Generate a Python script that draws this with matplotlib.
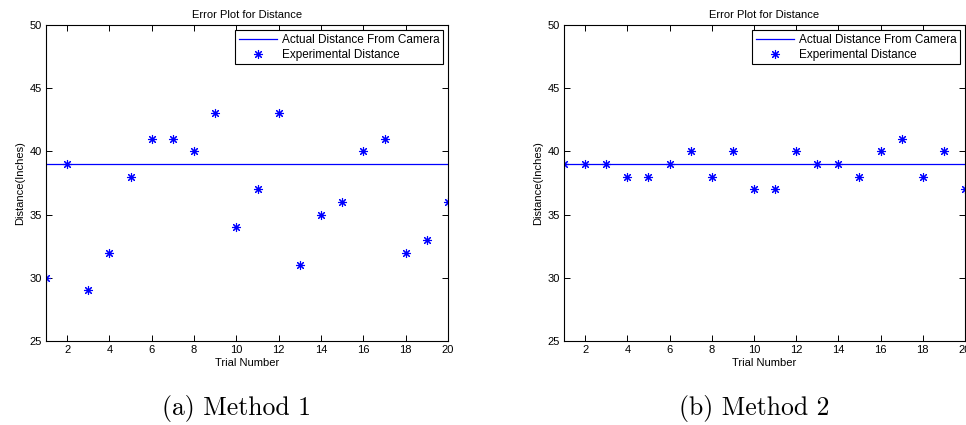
import numpy as np
import matplotlib.pyplot as plt

plt.rcParams['font.family'] = ['Liberation Sans', 'DejaVu Sans']

trials = np.arange(1, 21)
actual = 39
method1 = [30, 39, 29, 32, 38, 41, 41, 40, 43, 34, 37, 43, 31, 35, 36, 40, 41, 32, 33, 36]
method2 = [39, 39, 39, 38, 38, 39, 40, 38, 40, 37, 37, 40, 39, 39, 38, 40, 41, 38, 40, 37]
captions = ["(a) Method 1", "(b) Method 2"]

fig = plt.figure(figsize=(9.66, 4.25), dpi=100)

W, H = 966, 425
boxes = [[46, 84, 402, 316], [564, 84, 401, 316]]

for box, data, cap in zip(boxes, [method1, method2], captions):
    ax = fig.add_axes([box[0] / W, box[1] / H, box[2] / W, box[3] / H])
    ax.plot([1, 20], [actual, actual], color='blue', lw=0.9,
            label='Actual Distance From Camera')
    ax.plot(trials, data, ls='none', marker=(8, 2, 0), ms=6.5, mew=0.8,
            color='blue', label='Experimental Distance')
    ax.set_xlim(1, 20)
    ax.set_ylim(25, 50)
    ax.set_xticks(range(2, 21, 2))
    ax.set_yticks(range(25, 51, 5))
    ax.tick_params(direction='in', top=True, right=True, labelsize=8,
                   length=4, width=0.7, pad=3)
    for s in ax.spines.values():
        s.set_linewidth(0.8)
    ax.set_title('Error Plot for Distance', fontsize=8, pad=5)
    ax.set_xlabel('Trial Number', fontsize=8, labelpad=2)
    ax.set_ylabel('Distance(Inches)', fontsize=8, labelpad=3)
    leg = ax.legend(loc='upper right', fontsize=8.5, fancybox=False,
                    edgecolor='black', framealpha=1, borderaxespad=0.45,
                    handlelength=3.2, handletextpad=0.4, borderpad=0.3,
                    labelspacing=0.25)
    leg.get_frame().set_linewidth(0.8)
    cx = (box[0] + box[2] / 2 - 10) / W
    fig.text(cx, 1 - 409 / H, cap, ha='center', va='center',
             fontsize=18.5, family=['cmr10', 'DejaVu Serif'])

fig.savefig('out.png', dpi=100)
